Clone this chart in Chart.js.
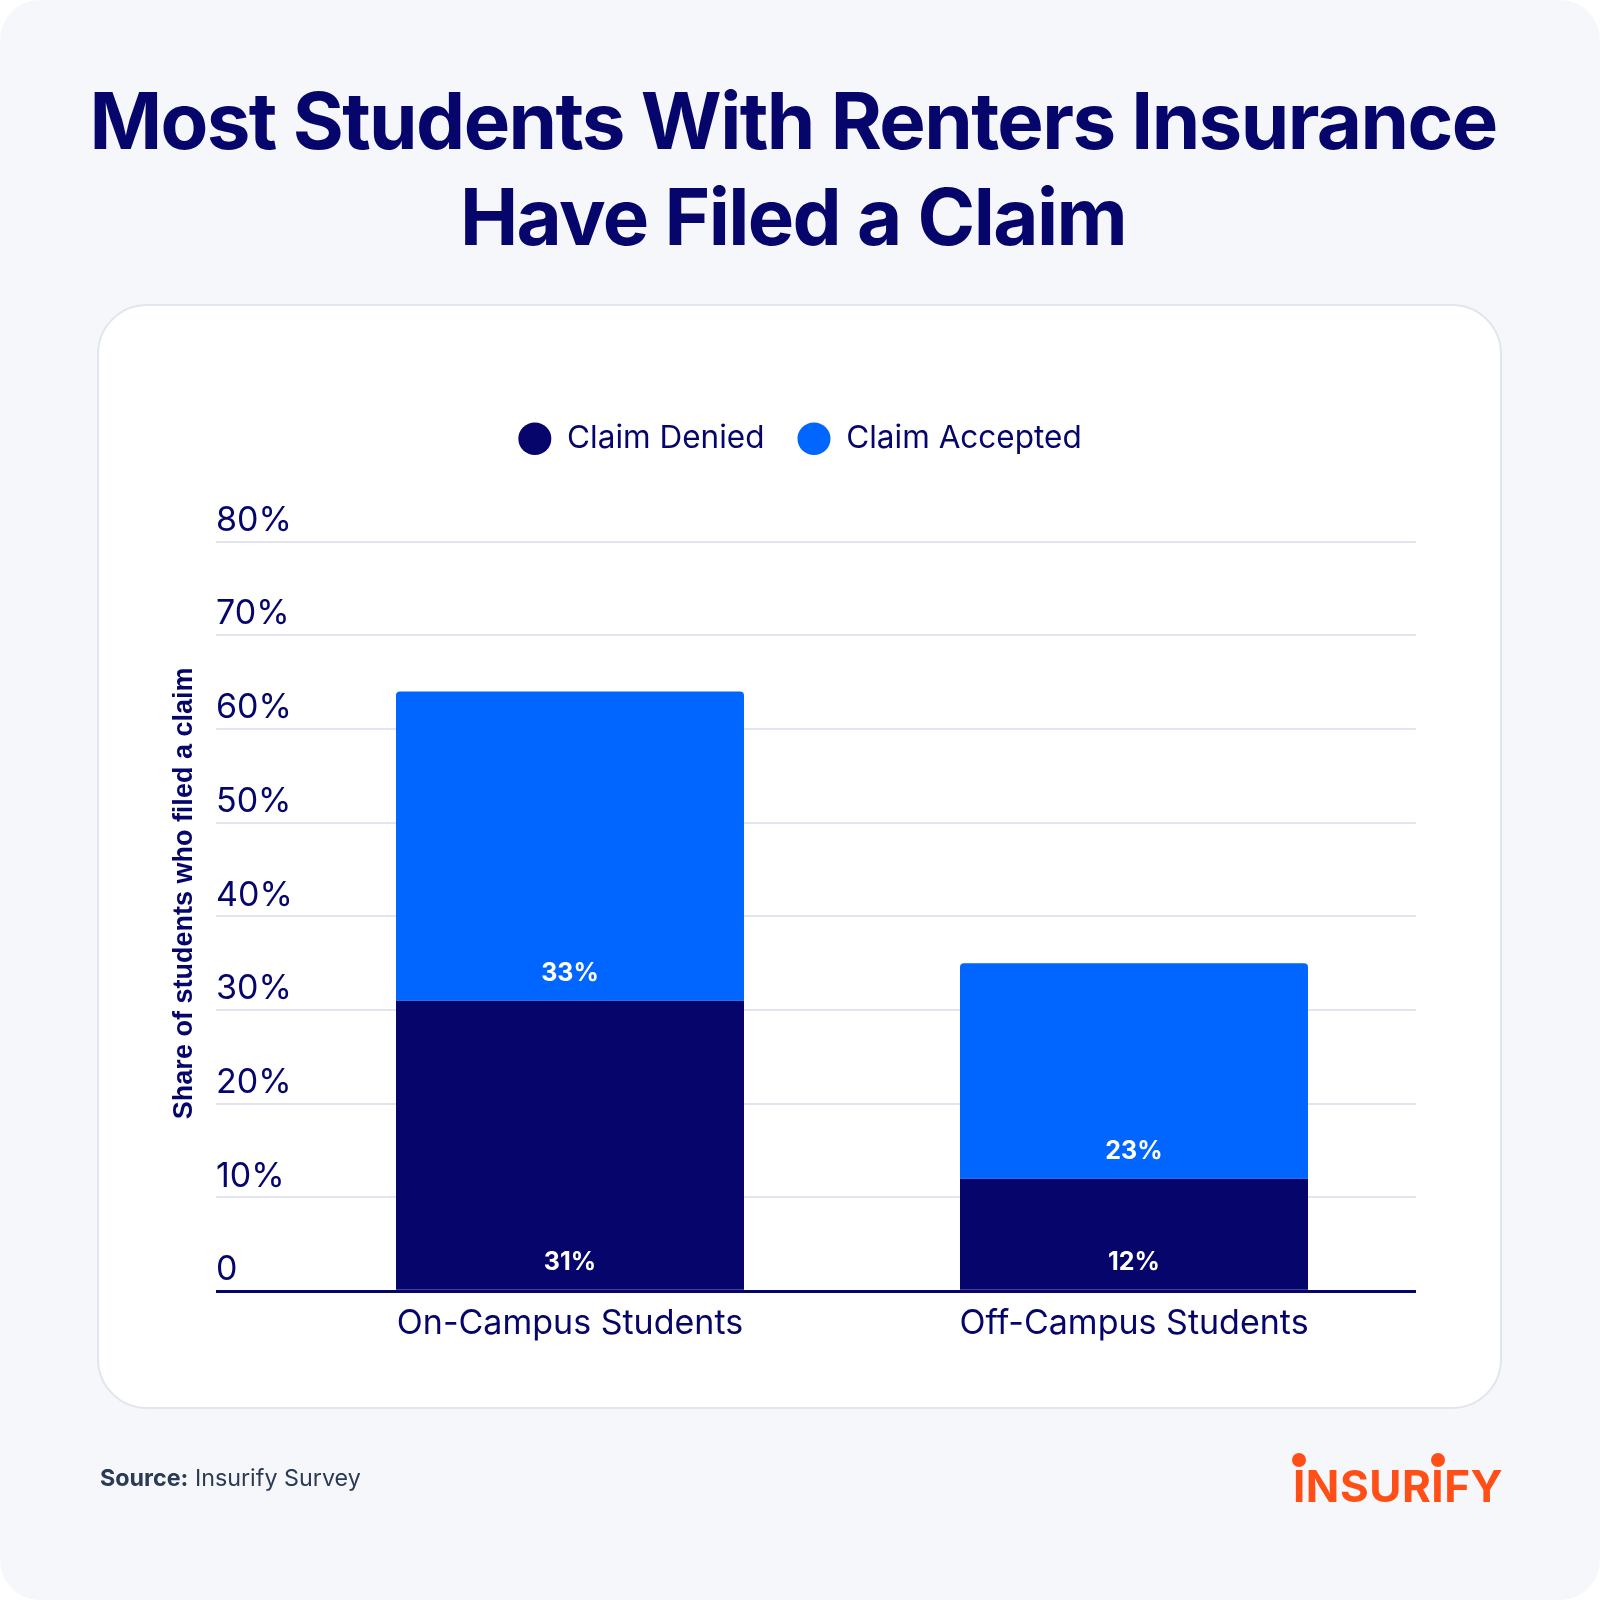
<!DOCTYPE html>
<html>
<head>
<meta charset="utf-8">
<script src="https://cdn.jsdelivr.net/npm/chart.js@4.4.1/dist/chart.umd.min.js"></script>
<style>
  html, body { margin: 0; padding: 0; background: #ffffff; }
  #page {
    position: relative; width: 1600px; height: 1600px; overflow: hidden;
    background: #f6f7fb; border-radius: 40px;
    font-family: "Inter", sans-serif; color: #05056b;
  }
  #title {
    position: absolute; left: 0; top: 73px; width: 1586px;
    text-align: center; font-size: 78px; line-height: 96px; font-weight: 700;
    letter-spacing: -1.6px; margin: 0;
  }
  #card {
    position: absolute; left: 97px; top: 304px; width: 1401px; height: 1101px;
    background: #ffffff; border: 2px solid #e1e5ee; border-radius: 50px;
  }
  #chart { position: absolute; left: 0; top: 0; }
  #source {
    position: absolute; left: 100px; top: 1463px; font-size: 23.3px; line-height: 30px;
    color: #2b3a55;
  }
  #source b { font-weight: 700; }
  #logo {
    position: absolute; left: 1293px; top: 1464px; font-size: 44px; line-height: 44px;
    font-weight: 700; color: #ff4f17; letter-spacing: 0.5px;
  }
  #logo .i { position: relative; }
  #logo .i::before {
    content: ""; position: absolute; left: 50%; top: -6px; width: 14px; height: 14px;
    margin-left: -7px; border-radius: 50%; background: #ff4f17;
  }
</style>
</head>
<body>
<div id="page">
  <h1 id="title">Most Students With Renters Insurance<br>Have Filed a Claim</h1>
  <div id="card"></div>
  <canvas id="chart" width="1600" height="1600"></canvas>
  <div id="source"><b>Source:</b> Insurify Survey</div>
  <div id="logo"><span class="i">I</span>NSUR<span class="i">I</span>FY</div>
</div>
<script>
var categories = ['On-Campus Students', 'Off-Campus Students'];
var claimDenied = [31, 12];
var claimAccepted = [33, 23];
var yTicks = [0, 10, 20, 30, 40, 50, 60, 70, 80];
var yTitle = 'Share of students who filed a claim';

var navy = '#05056b';
var blue = '#0066ff';
var gridColor = '#e4e4f0';

// push the plot down a bit below the legend
var legendMargin = {
  id: 'legendMargin',
  beforeInit: function(chart) {
    var fit = chart.legend.fit;
    chart.legend.fit = function() {
      fit.bind(chart.legend)();
      this.height += 77;
    };
  }
};

// value labels at the bottom of each segment + rotated y title
var barLabels = {
  id: 'barLabels',
  afterDatasetsDraw: function(chart) {
    var ctx = chart.ctx;
    ctx.save();
    ctx.fillStyle = '#ffffff';
    ctx.font = '700 25px Inter';
    ctx.textAlign = 'center';
    ctx.textBaseline = 'middle';
    chart.data.datasets.forEach(function(ds, i) {
      chart.getDatasetMeta(i).data.forEach(function(bar, j) {
        ctx.fillText(ds.data[j] + '%', bar.x, bar.base - 27);
      });
    });
    ctx.restore();
  },
  afterDraw: function(chart) {
    var ctx = chart.ctx;
    var area = chart.chartArea;
    ctx.save();
    ctx.translate(chart.scales.y.left + 1, (area.top + area.bottom) / 2 - 23);
    ctx.rotate(-Math.PI / 2);
    ctx.fillStyle = navy;
    ctx.font = 'bold 27px "Liberation Sans"';
    ctx.textAlign = 'center';
    ctx.textBaseline = 'middle';
    ctx.fillText(yTitle, 0, 0);
    ctx.restore();
  }
};

var ctx = document.getElementById('chart');

new Chart(ctx, {
  type: 'bar',
  data: {
    labels: categories,
    datasets: [
      {
        label: 'Claim Denied',
        data: claimDenied,
        backgroundColor: navy,
        borderWidth: 0,
        barPercentage: 0.617,
        categoryPercentage: 1
      },
      {
        label: 'Claim Accepted',
        data: claimAccepted,
        backgroundColor: blue,
        borderWidth: 0,
        borderRadius: { topLeft: 4, topRight: 4 },
        borderSkipped: 'bottom',
        barPercentage: 0.617,
        categoryPercentage: 1
      }
    ]
  },
  options: {
    responsive: false,
    animation: false,
    layout: { padding: { left: 184, right: 184, top: 390, bottom: 251 } },
    plugins: {
      tooltip: { enabled: false },
      legend: {
        position: 'top',
        labels: {
          usePointStyle: true,
          pointStyle: 'circle',
          boxHeight: 23,
          boxWidth: 33,
          pointStyleWidth: 33,
          padding: 33,
          color: navy,
          font: { family: 'Inter', size: 31.5 }
        }
      }
    },
    scales: {
      x: {
        stacked: true,
        grid: { display: false },
        border: { display: false },
        ticks: {
          color: navy,
          padding: 4.5,
          font: { family: 'Inter', size: 34 }
        }
      },
      y: {
        stacked: true,
        min: 0,
        max: 80,
        afterBuildTicks: function(scale) {
          scale.ticks = yTicks.map(function(v) { return { value: v }; });
        },
        afterFit: function(scale) {
          scale.width = 104;
        },
        border: { display: false },
        grid: {
          color: function(c) { return c.tick && c.tick.value === 0 ? navy : gridColor; },
          tickColor: function(c) { return c.tick && c.tick.value === 0 ? navy : gridColor; },
          lineWidth: function(c) { return c.tick && c.tick.value === 0 ? 3 : 2; },
          tickWidth: function(c) { return c.tick && c.tick.value === 0 ? 3 : 2; },
          tickLength: 72
        },
        ticks: {
          mirror: true,
          padding: -72,
          labelOffset: -21,
          color: navy,
          font: { family: 'Inter', size: 34 },
          callback: function(v) { return v === 0 ? '0' : v + '%'; }
        }
      }
    }
  },
  plugins: [legendMargin, barLabels]
});
</script>
</body>
</html>
